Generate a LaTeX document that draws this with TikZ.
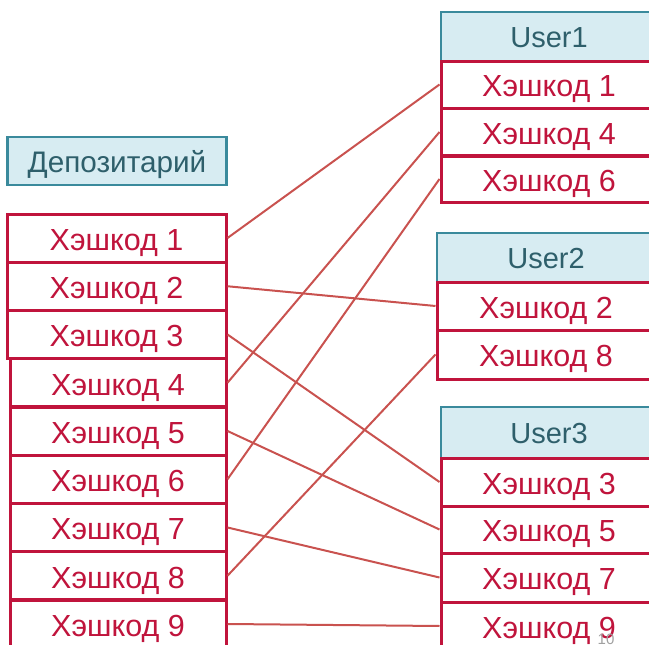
\documentclass[tikz,border=0pt]{standalone}
\usepackage{fontspec}
\setmainfont{Liberation Sans}
\definecolor{hashred}{HTML}{C0143C}
\definecolor{linkred}{HTML}{C9524F}
\definecolor{headfill}{HTML}{D7ECF2}
\definecolor{headline}{HTML}{3A8A9C}
\definecolor{headtext}{HTML}{2E5F6B}
\definecolor{pagegray}{HTML}{A0A0A0}
\begin{document}
\begin{tikzpicture}[x=1pt,y=-1pt,
  hashbox/.style={draw=hashred, line width=3pt, fill=white, text=hashred,
    rectangle, inner sep=0pt, minimum height=48pt,
    text height=24.8pt, text depth=0pt,
    font=\fontsize{30.5}{34}\selectfont},
  headbox/.style={draw=headline, line width=2.5pt, fill=headfill, text=headtext,
    rectangle, inner sep=0pt, text height=22.8pt, text depth=0pt,
    font=\fontsize{29}{33}\selectfont},
  link/.style={draw=linkred, line width=2pt}]
\useasboundingbox (0,0) rectangle (649,645);
\clip (0,0) rectangle (649,645);

% Depository header
\node[headbox, minimum width=219pt, minimum height=48pt,
  font=\fontsize{29.7}{33}\selectfont] (dep) at (117,161) {Депозитарий};

% Left column
\node[hashbox, minimum width=219pt] (l1) at (116.5,238) {Хэшкод 1};
\node[hashbox, minimum width=219pt] (l2) at (116.5,286.25) {Хэшкод 2};
\node[hashbox, minimum width=219pt] (l3) at (116.5,334.5) {Хэшкод 3};
\node[hashbox, minimum width=216pt] (l4) at (118,382.75) {Хэшкод 4};
\node[hashbox, minimum width=216pt] (l5) at (118,431) {Хэшкод 5};
\node[hashbox, minimum width=216pt] (l6) at (118,479.25) {Хэшкод 6};
\node[hashbox, minimum width=216pt] (l7) at (118,527.5) {Хэшкод 7};
\node[hashbox, minimum width=216pt] (l8) at (118,575.75) {Хэшкод 8};
\node[hashbox, minimum width=216pt] (l9) at (118,624) {Хэшкод 9};

% User1
\node[headbox, minimum width=222pt, minimum height=49pt] (u1) at (552,36.5) {\hspace*{-6pt}User1};
\node[hashbox, minimum width=222pt, minimum height=47pt] (u1a) at (552,84.5) {\hspace*{-6pt}Хэшкод 1};
\node[hashbox, minimum width=222pt, minimum height=47pt] (u1b) at (552,132) {\hspace*{-6pt}Хэшкод 4};
\node[hashbox, minimum width=222pt, minimum height=46pt] (u1c) at (552,179) {\hspace*{-6pt}Хэшкод 6};

% User2
\node[headbox, minimum width=226pt, minimum height=49pt] (u2) at (550,257.5) {\hspace*{-8pt}User2};
\node[hashbox, minimum width=226pt] (u2a) at (550,306) {\hspace*{-8pt}Хэшкод 2};
\node[hashbox, minimum width=226pt, minimum height=49pt] (u2b) at (550,354.5) {\hspace*{-8pt}Хэшкод 8};

% User3
\node[headbox, minimum width=222pt, minimum height=51pt] (u3) at (552,432.5) {\hspace*{-6pt}User3};
\node[hashbox, minimum width=222pt] (u3a) at (552,482) {\hspace*{-6pt}Хэшкод 3};
\node[hashbox, minimum width=222pt, minimum height=47pt] (u3b) at (552,529.5) {\hspace*{-6pt}Хэшкод 5};
\node[hashbox, minimum width=222pt, minimum height=49pt] (u3c) at (552,577.5) {\hspace*{-6pt}Хэшкод 7};
\node[hashbox, minimum width=222pt] (u3d) at (552,626) {\hspace*{-6pt}Хэшкод 9};

% Connectors
\draw[link] (l1.east) -- (u1a.west);
\draw[link] (l2.east) -- (u2a.west);
\draw[link] (l3.east) -- (u3a.west);
\draw[link] (l4.east) -- (u1b.west);
\draw[link] (l5.east) -- (u3b.west);
\draw[link] (l6.east) -- (u1c.west);
\draw[link] (l7.east) -- (u3c.west);
\draw[link] (l8.east) -- (u2b.west);
\draw[link] (l9.east) -- (u3d.west);

% Page number
\node[anchor=north, inner sep=0pt, text=pagegray, font=\fontsize{15}{17}\selectfont] (pg) at (606,634) {10};
\end{tikzpicture}
\end{document}
